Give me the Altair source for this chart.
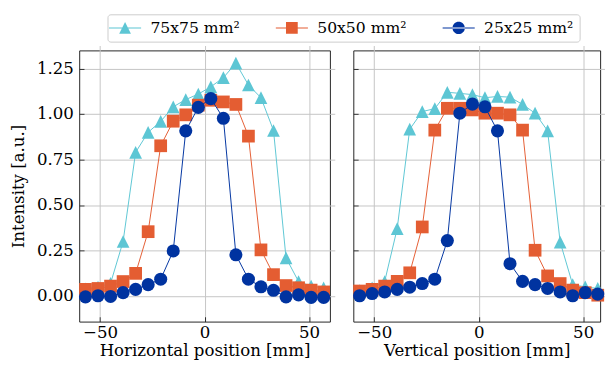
import altair as alt
import pandas as pd

positions = [-57, -51, -45, -39, -33, -27, -21, -15, -9, -3, 3, 9, 15, 21, 27, 33, 39, 45, 51, 57]
series_names = ["75x75 mm²", "50x50 mm²", "25x25 mm²"]
colors = ["#5DC6D4", "#E45D32", "#0033A0"]

# Horizontal profiles
h_75 = [0.04, 0.05, 0.07, 0.30, 0.79, 0.90, 0.96, 1.04, 1.08, 1.11, 1.15, 1.20, 1.28, 1.16, 1.09, 0.91, 0.21, 0.08, 0.055, 0.045]
h_50 = [0.037, 0.042, 0.055, 0.08, 0.125, 0.354, 0.826, 0.961, 0.996, 1.049, 1.076, 1.067, 1.053, 0.879, 0.254, 0.118, 0.058, 0.046, 0.033, 0.023]
h_25 = [-0.004, 0.002, -0.002, 0.019, 0.037, 0.063, 0.093, 0.248, 0.908, 1.037, 1.085, 0.977, 0.227, 0.093, 0.051, 0.032, -0.004, 0.007, -0.007, -0.007]

# Vertical profiles
v_75 = [0.03, 0.045, 0.08, 0.371, 0.917, 1.014, 1.03, 1.12, 1.114, 1.107, 1.09, 1.097, 1.093, 1.053, 1.005, 0.908, 0.297, 0.063, 0.051, 0.042]
v_50 = [0.028, 0.037, 0.055, 0.081, 0.128, 0.38, 0.912, 1.032, 1.032, 1.023, 1.005, 1.005, 0.996, 0.912, 0.252, 0.111, 0.069, 0.033, 0.019, 0.005]
v_25 = [0.002, 0.014, 0.023, 0.037, 0.049, 0.069, 0.093, 0.305, 1.005, 1.055, 1.04, 0.908, 0.178, 0.081, 0.063, 0.042, 0.023, 0.002, 0.019, 0.011]

y_ticks = [0.0, 0.25, 0.5, 0.75, 1.0, 1.25]
x_ticks = [-50, 0, 50]

marker_shapes = ["M0,-1L1,1L-1,1Z", "square", "circle"]
marker_sizes = [170, 170, 180]
# legend symbols: marker with a horizontal line through it
legend_shapes = [
    "M-2.35,-0.07L2.35,-0.07L2.35,0.07L-2.35,0.07Z M0,-0.86L0.86,0.86L-0.86,0.86Z",
    "M-2.35,-0.07L2.35,-0.07L2.35,0.07L-2.35,0.07Z M-0.86,-0.86L0.86,-0.86L0.86,0.86L-0.86,0.86Z",
    "M-2.35,-0.07L2.35,-0.07L2.35,0.07L-2.35,0.07Z M-0.9,0A0.9,0.9 0 1,0 0.9,0A0.9,0.9 0 1,0 -0.9,0Z",
]

PLOT_H = 278


def make_df(values_list):
    rows = []
    for name, vals in zip(series_names, values_list):
        for x, v in zip(positions, vals):
            rows.append({"pos": x, "val": v, "series": name})
    return pd.DataFrame(rows)


def legend_props():
    return dict(
        title=None, orient="none", direction="horizontal",
        legendX=29, legendY=-37,
        symbolSize=196, symbolOffset=4, labelOffset=18,
        columnPadding=36, padding=6,
        strokeColor="#cccccc", fillColor="white", cornerRadius=3,
        labelFont="DejaVu Serif", labelFontSize=16, labelColor="black",
        symbolStrokeWidth=0, symbolOpacity=1,
    )


def panel(values_list, x_title, left, with_legend, width, xmax):
    df = make_df(values_list)
    xenc = alt.X(
        "pos:Q",
        scale=alt.Scale(domain=[-60, xmax], nice=False, zero=False),
        axis=alt.Axis(values=x_ticks, title=x_title, format="d"),
    )
    if left:
        yaxis = alt.Axis(values=y_ticks, format=".2f", title="Intensity [a.u.]")
    else:
        yaxis = alt.Axis(values=y_ticks, format=".2f", labels=False, title=None)
    yenc = alt.Y("val:Q", scale=alt.Scale(domain=[-0.14, 1.35], nice=False, zero=False), axis=yaxis)

    layers = []
    for i, name in enumerate(series_names):
        base = alt.Chart(df).transform_filter(alt.datum.series == name)
        layers.append(base.mark_line(color=colors[i], strokeWidth=1).encode(x=xenc, y=yenc))
        layers.append(
            base.mark_point(filled=True, shape=marker_shapes[i], size=marker_sizes[i],
                            color=colors[i], opacity=1, strokeWidth=0).encode(x=xenc, y=yenc)
        )
    if with_legend:
        leg = alt.Chart(df).transform_filter("datum.pos > 1000").mark_point(
            filled=True, opacity=1, size=196
        ).encode(
            x=xenc,
            y=yenc,
            color=alt.Color("series:N", scale=alt.Scale(domain=series_names, range=colors),
                            legend=alt.Legend(**legend_props())),
            shape=alt.Shape("series:N", scale=alt.Scale(domain=series_names, range=legend_shapes),
                            legend=alt.Legend(**legend_props())),
        )
        layers.append(leg)
    return alt.layer(*layers).properties(width=width, height=PLOT_H)


left_panel = panel([h_75, h_50, h_25], "Horizontal position [mm]", True, True, 257, 60)
# the reference figure is cut at the right edge of the page
right_panel = panel([v_75, v_50, v_25], "Vertical position [mm]", False, False, 253, 58.13)

chart = (
    alt.hconcat(left_panel, right_panel, spacing=22)
    .properties(padding={"left": 1, "top": 1, "right": 0, "bottom": 0})
    .configure_view(stroke="#222222", strokeWidth=1)
    .configure_axis(
        labelFont="DejaVu Serif", titleFont="DejaVu Serif",
        labelFontSize=17, titleFontSize=17,
        labelColor="black", titleColor="black", titleFontWeight="normal",
        gridColor="#c4c4c4", gridWidth=1, gridOpacity=1,
        domain=False, tickColor="#222222", tickSize=5, tickWidth=1, offset=-5,
    )
    .configure_axisLeft(labelPadding=6, titlePadding=9)
    .configure_axisBottom(labelPadding=3, titlePadding=3)
)

chart.save("out.html", embed_options={"renderer": "svg", "actions": False})
